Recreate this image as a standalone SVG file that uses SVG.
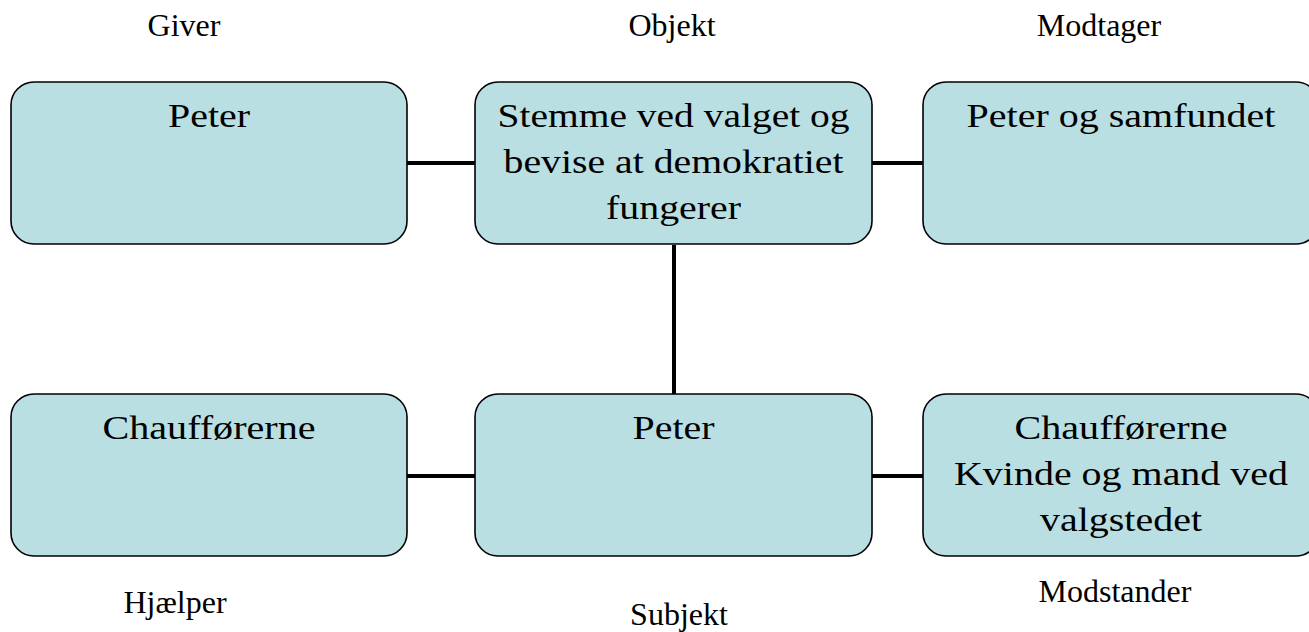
<svg xmlns="http://www.w3.org/2000/svg" width="1309" height="632" viewBox="0 0 1309 632">
<style>
.box{fill:#B9DFE3;stroke:#000;stroke-width:1.6}
text{font-family:"Liberation Serif","Times New Roman",serif;font-size:32px;fill:#000;text-anchor:middle}
.bt{font-size:34px}
.conn{stroke:#000;stroke-width:4;fill:none}
</style>
<rect width="1309" height="632" fill="#fff"/>
<g id="connectors">
<line class="conn" x1="407" y1="163" x2="475" y2="163"/>
<line class="conn" x1="872" y1="163" x2="923" y2="163"/>
<line class="conn" x1="674" y1="245" x2="674" y2="394"/>
<line class="conn" x1="407" y1="476" x2="475" y2="476"/>
<line class="conn" x1="872" y1="476" x2="923" y2="476"/>
</g>
<g id="giver">
<rect class="box" x="11" y="82" width="396" height="162" rx="23"/>
<text class="bt" x="209" y="127" textLength="82" lengthAdjust="spacingAndGlyphs">Peter</text>
</g>
<g id="objekt">
<rect class="box" x="475" y="82" width="397" height="162" rx="23"/>
<text class="bt" x="673.5" y="127" textLength="352" lengthAdjust="spacingAndGlyphs">Stemme ved valget og</text>
<text class="bt" x="673.5" y="173" textLength="340" lengthAdjust="spacingAndGlyphs">bevise at demokratiet</text>
<text class="bt" x="673.5" y="219" textLength="135" lengthAdjust="spacingAndGlyphs">fungerer</text>
</g>
<g id="modtager">
<rect class="box" x="923" y="82" width="396" height="162" rx="23"/>
<text class="bt" x="1121" y="127" textLength="309" lengthAdjust="spacingAndGlyphs">Peter og samfundet</text>
</g>
<g id="hjaelper">
<rect class="box" x="11" y="394" width="396" height="162" rx="23"/>
<text class="bt" x="209" y="439" textLength="213" lengthAdjust="spacingAndGlyphs">Chaufførerne</text>
</g>
<g id="subjekt">
<rect class="box" x="475" y="394" width="397" height="162" rx="23"/>
<text class="bt" x="673.5" y="439" textLength="82" lengthAdjust="spacingAndGlyphs">Peter</text>
</g>
<g id="modstander">
<rect class="box" x="923" y="394" width="396" height="162" rx="23"/>
<text class="bt" x="1121" y="439" textLength="213" lengthAdjust="spacingAndGlyphs">Chaufførerne</text>
<text class="bt" x="1121" y="485" textLength="334" lengthAdjust="spacingAndGlyphs">Kvinde og mand ved</text>
<text class="bt" x="1121" y="531" textLength="162" lengthAdjust="spacingAndGlyphs">valgstedet</text>
</g>
<g id="labels">
<text x="184" y="36">Giver</text>
<text x="672" y="36">Objekt</text>
<text x="1099" y="36">Modtager</text>
<text x="175" y="613">Hjælper</text>
<text x="679" y="625">Subjekt</text>
<text x="1115" y="602">Modstander</text>
</g>
</svg>
